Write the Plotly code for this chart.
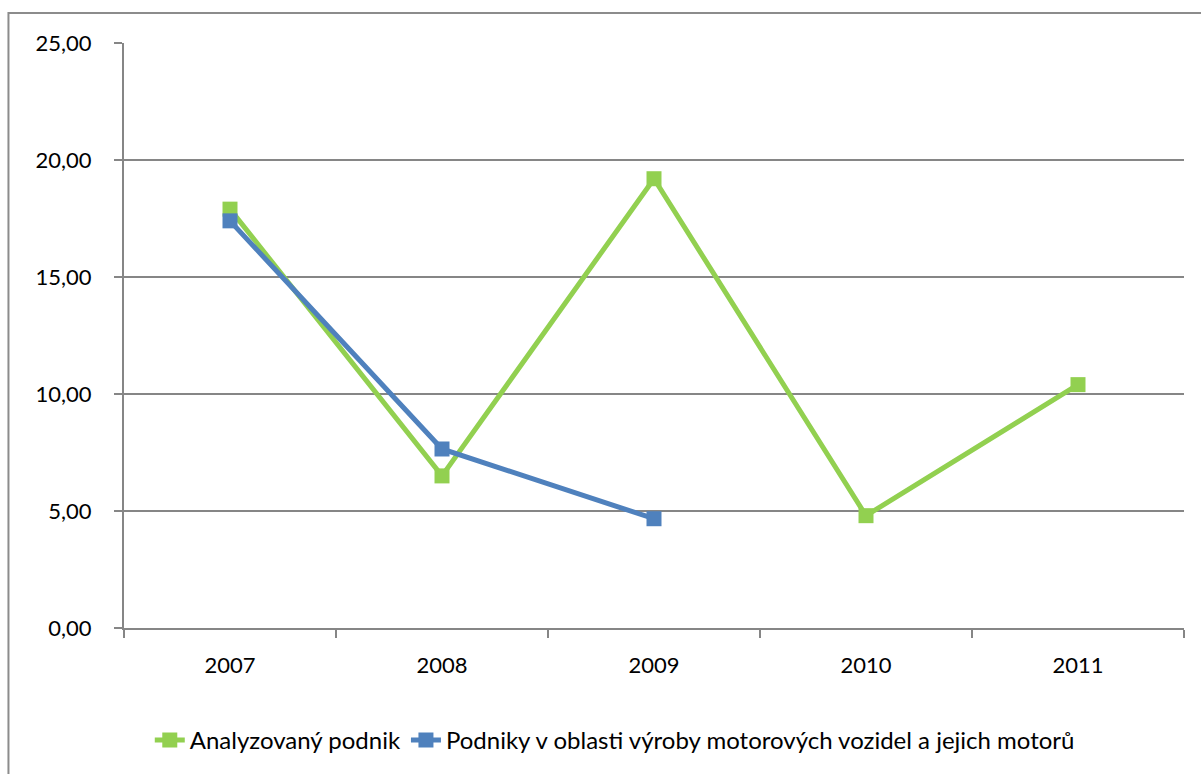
import plotly.graph_objects as go

years = ["2007", "2008", "2009", "2010", "2011"]
analyzed = [17.9, 6.5, 19.2, 4.8, 10.4]
industry = [17.4, 7.65, 4.67, None, None]
y_ticks = [0, 5, 10, 15, 20, 25]
y_tick_labels = ["0,00", "5,00", "10,00", "15,00", "20,00", "25,00"]

GREEN = "#92d050"
BLUE = "#4f81bd"
GRID = "#868686"
FONT = "Lato"

fig = go.Figure()
fig.add_trace(go.Scatter(
    x=years, y=analyzed, name="Analyzovaný podnik",
    mode="lines+markers",
    line=dict(color=GREEN, width=5),
    marker=dict(symbol="square", size=15, color=GREEN),
))
fig.add_trace(go.Scatter(
    x=years, y=industry, name="Podniky v oblasti výroby motorových vozidel a jejich motorů",
    mode="lines+markers",
    line=dict(color=BLUE, width=5),
    marker=dict(symbol="square", size=15, color=BLUE),
))

fig.update_layout(
    width=1201, height=774,
    margin=dict(l=124, r=17, t=43, b=145),
    paper_bgcolor="white", plot_bgcolor="white",
    font=dict(family=FONT, size=22, color="#000000"),
    showlegend=True,
    legend=dict(
        orientation="h", x=0.463, xanchor="center", y=-0.19, yanchor="middle",
        font=dict(family=FONT, size=24, color="#000000"),
        itemwidth=30, tracegroupgap=0,
    ),
    shapes=[dict(
        type="rect", xref="paper", yref="paper",
        x0=-0.109, x1=1.2, y0=-0.4, y1=1.0512,
        line=dict(color="#8c8c8c", width=2), fillcolor="rgba(0,0,0,0)",
        layer="below",
    )],
)

fig.update_xaxes(
    type="category", range=[-0.5, 4.5],
    showgrid=False, showline=True, linecolor=GRID, linewidth=2,
    ticks="outside", tickson="boundaries", ticklen=8, tickwidth=2, tickcolor=GRID,
    ticklabelstandoff=17, zeroline=False,
)
fig.update_yaxes(
    range=[0, 25], tickvals=y_ticks, ticktext=y_tick_labels,
    showgrid=True, gridcolor=GRID, gridwidth=2,
    showline=True, linecolor=GRID, linewidth=2,
    ticks="outside", ticklen=8, tickwidth=2, tickcolor=GRID,
    ticklabelstandoff=18, zeroline=False,
)

fig.write_html("out.html")
